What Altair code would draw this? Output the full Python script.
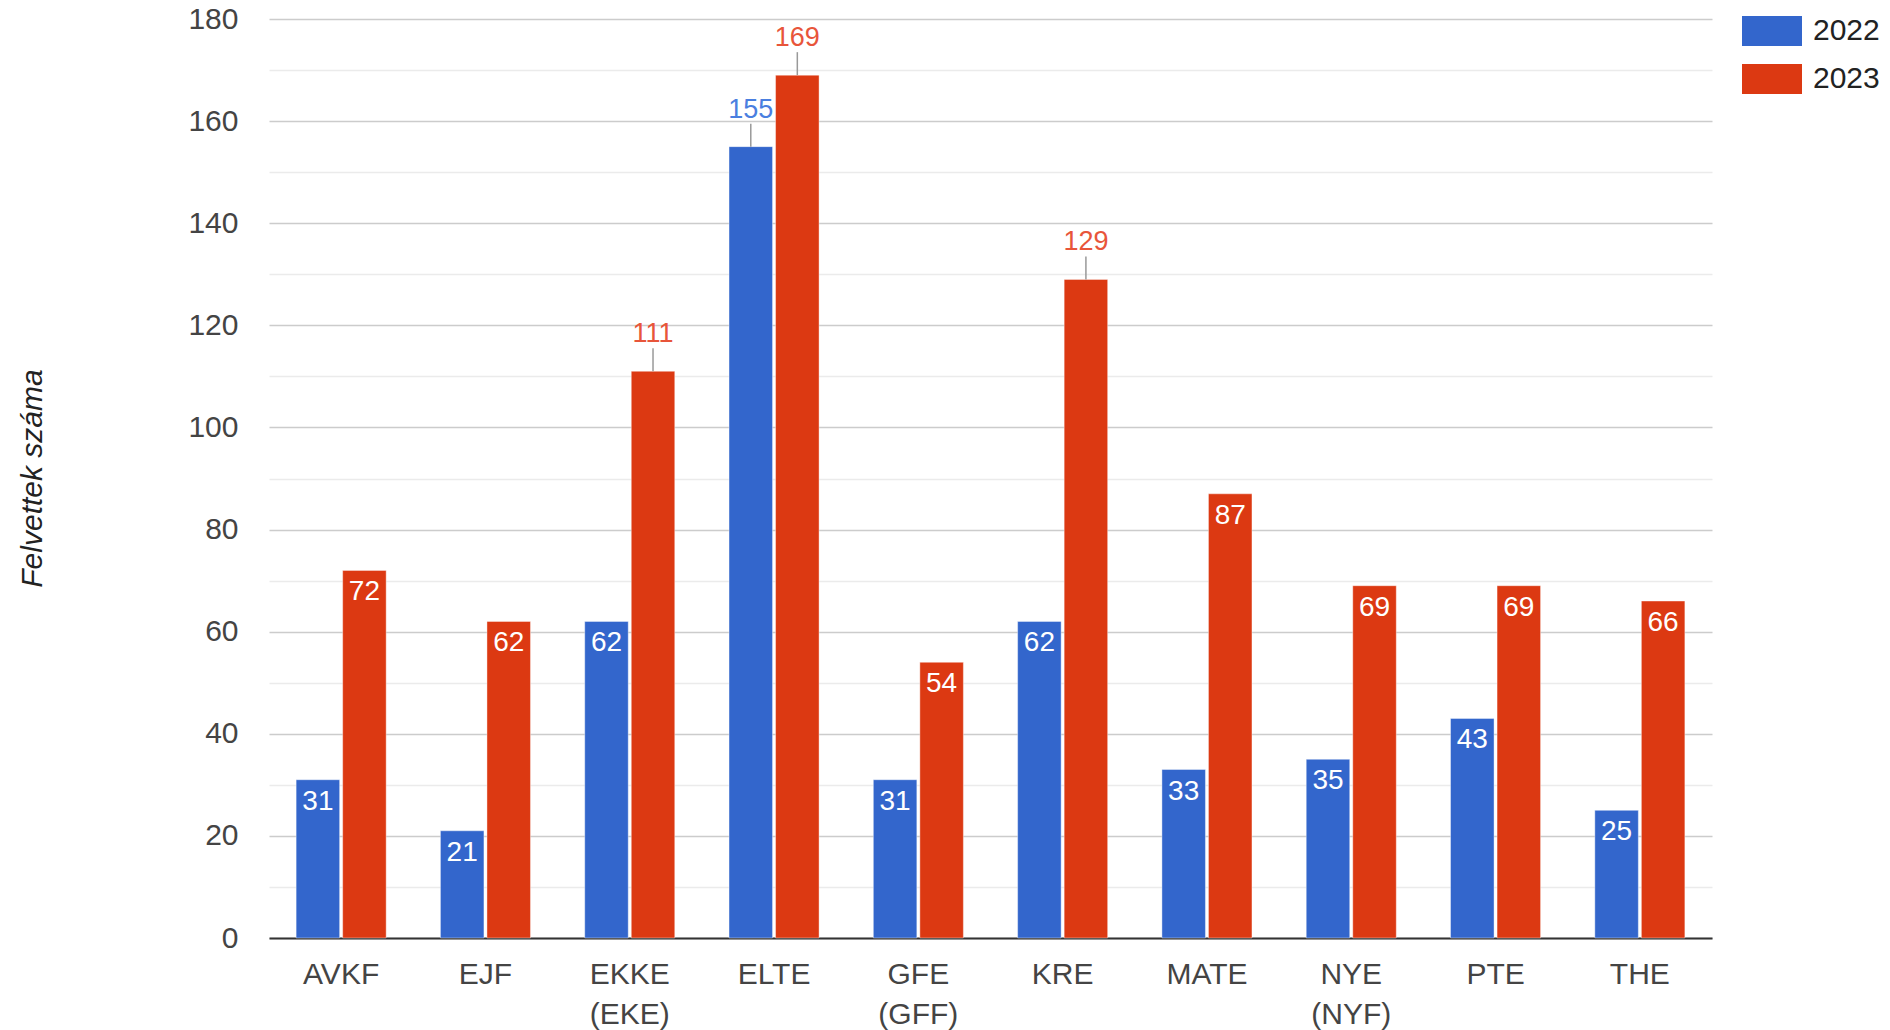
import altair as alt
import pandas as pd

schools = ["AVKF", "EJF", "EKKE (EKE)", "ELTE", "GFE (GFF)", "KRE", "MATE", "NYE (NYF)", "PTE", "THE"]
years = ["2022", "2023"]
v2022 = [31, 21, 62, 155, 31, 62, 33, 35, 43, 25]
v2023 = [72, 62, 111, 169, 54, 129, 87, 69, 69, 66]
y_ticks = list(range(0, 181, 10))
colors = ["#3366CC", "#DC3912"]

rows = []
for i, s in enumerate(schools):
    rows.append({"school": s, "year": "2022", "value": v2022[i]})
    rows.append({"school": s, "year": "2023", "value": v2023[i]})
df = pd.DataFrame(rows)

FONT = "Liberation Sans"

x_enc = alt.X(
    "school:N",
    sort=schools,
    scale=alt.Scale(paddingInner=0.376, paddingOuter=0.188),
    axis=alt.Axis(
        title=None,
        labelExpr="split(datum.label, ' ')",
        labelFontSize=30,
        labelColor="#444444",
        labelFont=FONT,
        labelPadding=21,
        labelLineHeight=40,
        labelAngle=0,
        ticks=False,
        domainColor="#333333",
        domainWidth=2,
        grid=False,
    ),
)
xoff = alt.XOffset("year:N", scale=alt.Scale(paddingInner=0.065, paddingOuter=0))
y_enc = alt.Y(
    "value:Q",
    scale=alt.Scale(domain=[0, 180], nice=False, zero=True),
    axis=alt.Axis(
        title="Felvettek száma",
        values=y_ticks,
        labelExpr="datum.value % 20 === 0 ? datum.label : ''",
        labelFontSize=30,
        labelColor="#444444",
        labelFont=FONT,
        labelPadding=31,
        ticks=False,
        domain=False,
        gridColor={"condition": {"test": "datum.value % 20 === 0", "value": "#cccccc"}, "value": "#ebebeb"},
        gridWidth=1.5,
        titleFont=FONT,
        titleFontSize=30,
        titleFontStyle="italic",
        titleFontWeight="normal",
        titleColor="#222222",
        titleAngle=270,
        titleX=-228,
        titleY=459,
        titleAlign="center",
        titleBaseline="alphabetic",
    ),
)
color_enc = alt.Color(
    "year:N",
    scale=alt.Scale(domain=years, range=colors),
    legend=alt.Legend(
        title=None,
        orient="none",
        legendX=1473,
        legendY=-18,
        symbolType="M-1,-0.5H1V0.5H-1Z",
        symbolSize=3600,
        symbolStrokeWidth=0,
        symbolOpacity=1,
        labelFontSize=30,
        labelFont=FONT,
        labelColor="#222222",
        labelOffset=11,
        rowPadding=3,
        padding=0,
    ),
)

base = alt.Chart(df)

bars = base.mark_bar(stroke="white", strokeWidth=1, strokeOpacity=0.4).encode(
    x=x_enc, xOffset=xoff, y=y_enc, color=color_enc
)

inside = base.mark_text(
    dy=30, baseline="alphabetic", align="center", fontSize=28, font=FONT, color="white"
).encode(
    x=alt.X("school:N", sort=schools), xOffset="year:N", y="value:Q", text="value:Q"
).transform_filter("datum.value <= 100")

outside = base.mark_text(
    dy=-29, baseline="alphabetic", align="center", fontSize=27, font=FONT
).encode(
    x=alt.X("school:N", sort=schools), xOffset="year:N", y="value:Q", text="value:Q",
    color=alt.Color("year:N", scale=alt.Scale(domain=years, range=["#4a7fe0", "#e8553a"]), legend=None),
).transform_filter("datum.value > 100")

leader = base.mark_rule(color="#999999", strokeWidth=1.5, y2Offset=-23).encode(
    x=alt.X("school:N", sort=schools), xOffset="year:N", y="value:Q", y2="value:Q"
).transform_filter("datum.value > 100")

chart = alt.layer(bars, leader, inside, outside).resolve_scale(color="independent").properties(
    width=1443,
    height=919,
    autosize=alt.AutoSizeParams(type="none"),
    padding={"left": 261, "top": 11, "right": 170, "bottom": 100},
).configure_view(stroke=None)

chart.save("out.html", embed_options={"renderer": "svg", "actions": False})
